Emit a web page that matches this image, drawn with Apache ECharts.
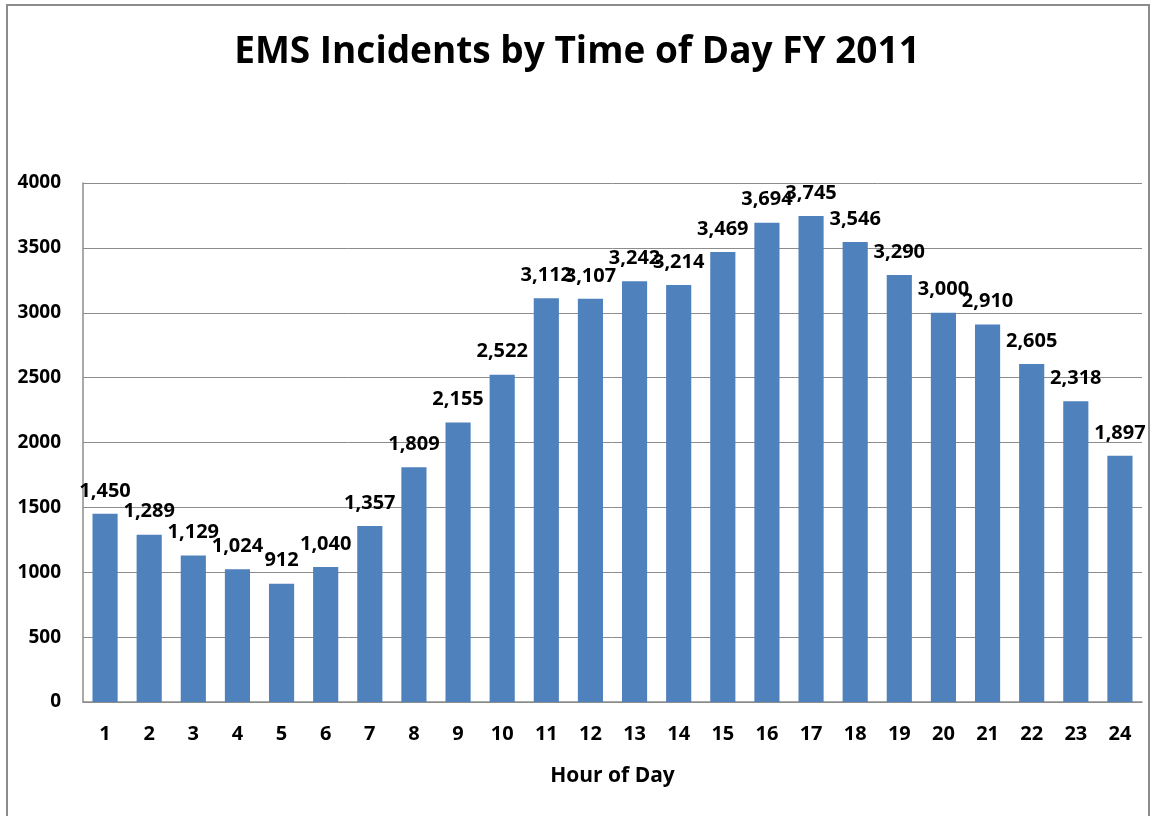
<!DOCTYPE html>
<html>
<head>
<meta charset="utf-8">
<script src="https://cdn.jsdelivr.net/npm/echarts@6/dist/echarts.min.js"></script>
<style>
  html, body { margin: 0; padding: 0; background: #fff; overflow: hidden; }
  #frame {
    position: absolute; left: 6px; top: 4px; width: 1144px; height: 830px;
    border: 2px solid #8c8c8c; box-sizing: border-box;
  }
  #chart { position: absolute; left: 0; top: 0; width: 1154px; height: 816px; }
</style>
</head>
<body>
<div id="frame"></div>
<div id="chart"></div>
<script>
const hours = ['1', '2', '3', '4', '5', '6', '7', '8', '9', '10', '11', '12',
  '13', '14', '15', '16', '17', '18', '19', '20', '21', '22', '23', '24']
const incidents = [1450, 1289, 1129, 1024, 912, 1040, 1357, 1809, 2155, 2522, 3112, 3107,
  3242, 3214, 3469, 3694, 3745, 3546, 3290, 3000, 2910, 2605, 2318, 1897]

const font = '"Open Sans", "Liberation Sans", sans-serif'

const myChart = echarts.init(document.getElementById('chart'))

myChart.setOption({
  animation: false,
  title: {
    text: 'EMS Incidents by Time of Day FY 2011',
    left: 'center',
    top: 29,
    textStyle: {
      fontFamily: font,
      fontSize: 37,
      fontWeight: 'bold',
      color: '#000'
    }
  },
  grid: {
    left: 83,
    right: 12,
    top: 183,
    bottom: 114
  },
  xAxis: {
    type: 'category',
    data: hours,
    name: 'Hour of Day',
    nameLocation: 'middle',
    nameGap: 64,
    nameTextStyle: {
      fontFamily: font,
      fontSize: 21,
      fontWeight: 'bold',
      color: '#000'
    },
    axisLine: { lineStyle: { color: '#8c8c8c', width: 1.5 } },
    axisTick: { show: false },
    axisLabel: {
      margin: 22,
      fontFamily: font,
      fontSize: 20,
      fontWeight: 'bold',
      color: '#000'
    }
  },
  yAxis: {
    type: 'value',
    min: 0,
    max: 4000,
    interval: 500,
    axisLine: { show: true, lineStyle: { color: '#8c8c8c', width: 1.5 } },
    axisTick: { show: false },
    splitLine: { lineStyle: { color: '#8c8c8c', width: 1 } },
    axisLabel: {
      margin: 22,
      fontFamily: font,
      fontSize: 19,
      fontWeight: 'bold',
      color: '#000',
      formatter: (v) => String(v)
    }
  },
  series: [
    {
      type: 'bar',
      data: incidents,
      barCategoryGap: '43%',
      itemStyle: { color: '#4f81bd' },
      label: {
        show: true,
        position: 'top',
        distance: 13,
        fontFamily: font,
        fontSize: 20,
        fontWeight: 'bold',
        color: '#000',
        formatter: (p) => p.value.toLocaleString('en-US')
      }
    }
  ]
})
</script>
</body>
</html>
